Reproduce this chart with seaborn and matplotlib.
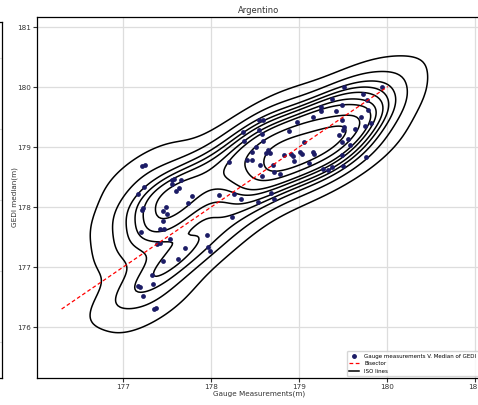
import matplotlib as mpl
import matplotlib.pyplot as plt
import numpy as np
import pandas as pd
import seaborn as sns
from matplotlib.lines import Line2D

gauge = [
    179.51, 179.94, 179.73, 179.38, 179.77, 179.25, 179.25, 179.49, 179.42, 179.79,
    178.98, 179.16, 179.49, 179.70, 179.82, 179.75, 179.51, 179.50, 179.64, 179.45,
    179.56, 179.49, 179.58, 178.89, 179.06, 179.01, 179.03, 179.16, 179.17, 178.91,
    178.93, 178.83, 178.94, 179.11, 179.49, 179.76, 179.27, 179.33, 179.38, 179.50,
    178.70, 178.78, 178.72, 178.58, 178.68, 178.55, 178.59, 178.54, 178.58, 178.36,
    178.59, 178.37, 178.51, 178.65, 178.67, 178.63, 178.47, 178.41, 178.47, 178.56,
    178.20, 177.21, 177.25, 177.55, 177.58, 177.56, 177.66, 177.24, 177.63, 177.60,
    177.17, 177.78, 178.09, 178.26, 178.34, 178.53, 178.72, 177.74, 177.23, 177.21,
    177.49, 177.50, 177.45, 177.45, 177.42, 177.47, 177.20, 177.53, 177.95, 177.38,
    177.42, 177.70, 177.97, 177.99, 177.45, 177.62, 178.24, 177.33, 177.17, 177.19,
    177.34, 177.23, 177.37, 177.35,
]
gedi = [
    180.01, 180.00, 179.88, 179.80, 179.79, 179.67, 179.61, 179.71, 179.61, 179.62,
    179.42, 179.51, 179.45, 179.51, 179.41, 179.35, 179.33, 179.28, 179.31, 179.21,
    179.13, 179.08, 179.03, 179.27, 179.08, 178.92, 178.88, 178.92, 178.89, 178.88,
    178.86, 178.87, 178.77, 178.73, 178.87, 178.84, 178.64, 178.62, 178.67, 178.69,
    178.70, 178.56, 178.59, 178.52, 178.24, 179.46, 179.46, 179.28, 179.22, 179.25,
    179.11, 179.11, 179.01, 178.96, 178.91, 178.91, 178.92, 178.78, 178.78, 178.71,
    178.75, 178.68, 178.70, 178.45, 178.47, 178.38, 178.46, 178.34, 178.32, 178.27,
    178.22, 178.18, 178.20, 178.22, 178.14, 178.09, 178.13, 178.07, 177.98, 177.95,
    178.00, 177.88, 177.93, 177.76, 177.64, 177.63, 177.58, 177.46, 177.54, 177.38,
    177.40, 177.31, 177.34, 177.26, 177.10, 177.13, 177.83, 176.86, 176.68, 176.66,
    176.71, 176.51, 176.31, 176.30,
]
title = "Argentino"

df = pd.DataFrame({"gauge": gauge, "gedi": gedi})

mpl.rcParams["font.size"] = 5
mpl.rcParams["axes.linewidth"] = 0.9

fig = plt.figure(figsize=(4.78, 4.05), dpi=100)

# right edge of the neighbouring (cut-off) panel
ax0 = fig.add_axes([-0.5, 27 / 405, 0.5 + 2 / 478, 1 - 27 / 405 - 22 / 405])
ax0.set_xticks([])
ax0.set_yticks(np.linspace(0.1, 0.9, 5))
ax0.set_yticklabels([])
ax0.tick_params(length=0)
ax0.grid(True, color="#dddddd", linewidth=0.8)

ax = fig.add_axes([37 / 478, 27 / 405, (481 - 37) / 478, (378 - 17) / 405])
ax.set_axisbelow(True)
ax.grid(True, color="#dddddd", linewidth=0.9)

sns.kdeplot(data=df, x="gauge", y="gedi", levels=10, colors="black",
            linewidths=1.1, ax=ax)
sns.scatterplot(data=df, x="gauge", y="gedi", color="#1c1c66", s=12,
                linewidth=0, ax=ax, zorder=3)

lo = min(df.gauge.min(), df.gedi.min())
hi = max(df.gauge.max(), df.gedi.max())
ax.plot([lo, hi], [lo, hi], color="red", linestyle="--", linewidth=0.9,
        dashes=(3, 2), zorder=4)

ax.set_xlim(176.02, 181.07)
ax.set_ylim(175.15, 181.17)
ax.set_xticks([177, 178, 179, 180, 181])
ax.set_yticks([176, 177, 178, 179, 180, 181])
ax.tick_params(labelsize=5.2, length=3, width=0.8, pad=1.5, colors="#333333")
ax.set_xlabel("Gauge Measurements(m)", fontsize=5.2, color="#333333")
ax.set_ylabel("GEDI median(m)", fontsize=5.2, color="#333333")
ax.xaxis.set_label_coords(0.5, -0.036)
ax.yaxis.set_label_coords(-0.042, 0.5)
ax.set_title(title, fontsize=6, color="#333333", pad=3)

handles = [
    Line2D([], [], marker="o", linestyle="", color="#1c1c66", markersize=2.5),
    Line2D([], [], color="red", linestyle="--", linewidth=0.9, dashes=(3, 2)),
    Line2D([], [], color="black", linewidth=1.1),
]
labels = ["Gauge measurements V. Median of GEDI", "Bisector", "ISO lines"]
ax.legend(handles, labels, loc="lower right", fontsize=4, framealpha=0.8,
          borderaxespad=0.4, handlelength=1.8, handletextpad=0.9,
          labelspacing=0.45)

fig.savefig("out.png", dpi=100)
